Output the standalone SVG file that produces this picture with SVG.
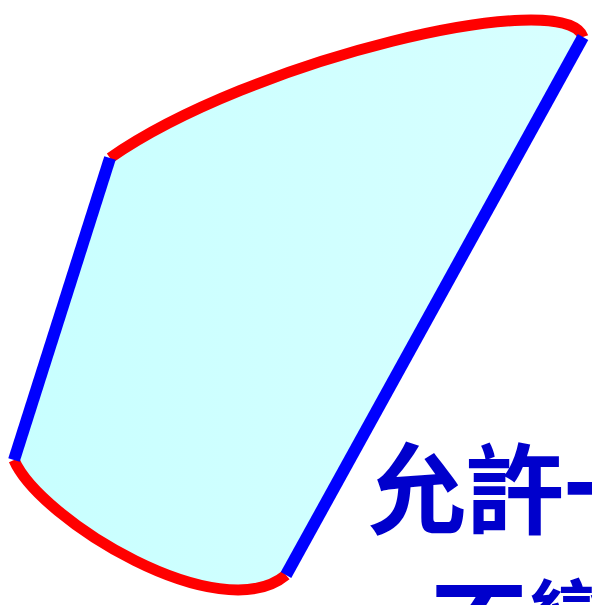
<svg xmlns="http://www.w3.org/2000/svg" width="592" height="605" viewBox="0 0 592 605">
  <defs>
    <linearGradient id="fillGrad" x1="0" y1="0" x2="1" y2="0">
      <stop offset="0" stop-color="#c8ffff"/>
      <stop offset="1" stop-color="#d8ffff"/>
    </linearGradient>
    <style>
      .red { fill: none; stroke: #ff0000; stroke-width: 11; stroke-linecap: butt; }
      .blue { fill: none; stroke: #0000ff; stroke-width: 12; stroke-linecap: butt; }
      .label { font-family: "Noto Sans CJK TC", "Noto Sans CJK SC", sans-serif; font-size: 98px; font-weight: 700; fill: #0000cc; }
    </style>
  </defs>
  <g id="region">
    <path d="M110,158 C250,60 565,-15 583,37 L286,575 C220,630 40,520 14,460 Z" fill="url(#fillGrad)" stroke="none"/>
    <path class="red" d="M14,460 C40,520 220,630 286,575"/>
    <path class="red" d="M110,158 C250,60 565,-15 583,37"/>
    <path class="blue" d="M14,460 L110,158"/>
    <path class="blue" d="M583,37 L286,575"/>
  </g>
  <g id="label">
    <text class="label" x="368" y="526">允許一</text>
    <text class="label" x="430" y="662">不變</text>
  </g>
</svg>
